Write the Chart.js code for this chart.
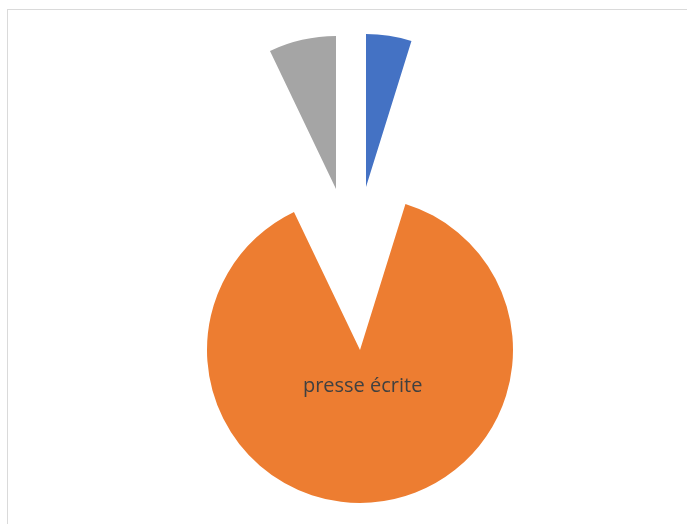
<!DOCTYPE html>
<html><head><meta charset="utf-8">
<script src="https://cdn.jsdelivr.net/npm/chart.js@4/dist/chart.umd.min.js"></script>
<style>
html,body{margin:0;padding:0;background:#fff;overflow:hidden;}
#stage{position:relative;width:687px;height:524px;overflow:hidden;}
#frame{position:absolute;left:7px;top:9px;width:720px;height:600px;border:1px solid #dadada;box-sizing:border-box;}
canvas{position:absolute;}
</style></head><body>
<div id="stage"><div id="frame"></div></div>
<script>
// ---- data ----
const categories = ["catégorie 1", "presse écrite", "catégorie 3"];
const values = [4.8, 88.1, 7.1];
const sliceColors = ["#4472C4", "#ED7D31", "#A5A5A5"];
const labelShown = [false, true, false];

// ---- layout / style ----
const CENTER_X = 354, CENTER_Y = 268.5;   // pie centre before explosion
const EXPLODE = 82;                        // explosion distance (px)
const RADIUS = 153;
const CANVAS_SIZE = 2 * RADIUS + 10;
const LABEL_FRACTION = 0.24;

const total = values.reduce((a, b) => a + b, 0);
const stage = document.getElementById('stage');

const labelPlugin = {
  id: 'sliceLabel',
  afterDatasetsDraw(chart, args, opts) {
    const idx = opts.index;
    if (!labelShown[idx]) return;
    const arc = chart.getDatasetMeta(0).data[idx];
    const h = (arc.startAngle + arc.endAngle) / 2;
    const r = arc.outerRadius * LABEL_FRACTION;
    const ctx = chart.ctx;
    ctx.save();
    ctx.font = '20px "Open Sans"';
    ctx.fillStyle = '#404040';
    ctx.textAlign = 'center';
    ctx.textBaseline = 'middle';
    ctx.fillText(chart.data.labels[idx], arc.x + Math.cos(h) * r, arc.y + Math.sin(h) * r);
    ctx.restore();
  }
};

let cum = 0;
values.forEach((v, i) => {
  const startDeg = cum / total * 360;
  const midDeg = startDeg + v / total * 180;
  cum += v;
  const m = midDeg * Math.PI / 180;
  const ax = CENTER_X + EXPLODE * Math.sin(m);
  const ay = CENTER_Y - EXPLODE * Math.cos(m);
  const cv = document.createElement('canvas');
  cv.width = CANVAS_SIZE; cv.height = CANVAS_SIZE;
  cv.style.left = Math.round(ax - CANVAS_SIZE / 2) + 'px';
  cv.style.top = Math.round(ay - CANVAS_SIZE / 2) + 'px';
  cv.style.width = CANVAS_SIZE + 'px'; cv.style.height = CANVAS_SIZE + 'px';
  stage.appendChild(cv);
  new Chart(cv, {
    type: 'pie',
    data: {
      labels: categories,
      datasets: [{
        data: values,
        backgroundColor: sliceColors.map((c, j) => j === i ? c : 'rgba(0,0,0,0)'),
        borderWidth: 0,
        radius: RADIUS
      }]
    },
    options: {
      responsive: false,
      animation: false,
      events: [],
      layout: { padding: 0 },
      plugins: { legend: { display: false }, tooltip: { enabled: false }, sliceLabel: { index: i } }
    },
    plugins: [labelPlugin]
  });
});
</script>
</body></html>
